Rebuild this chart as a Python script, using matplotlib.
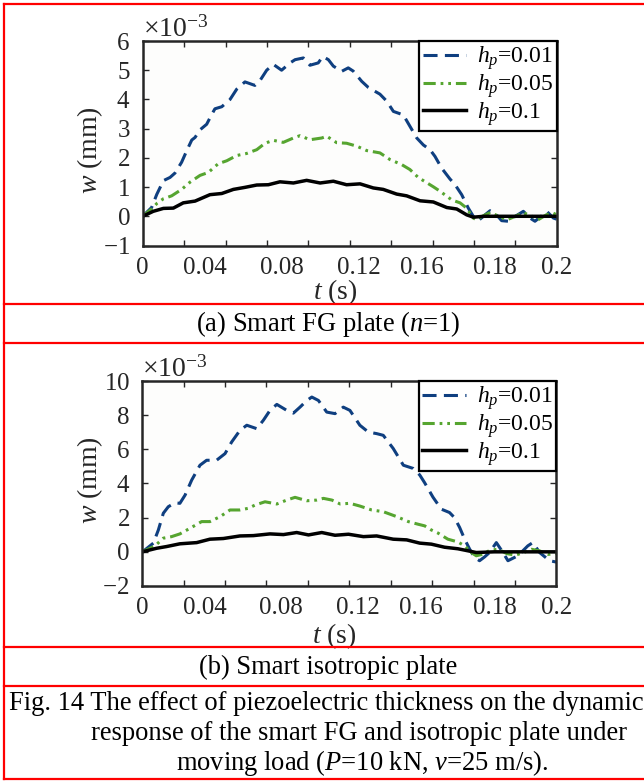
import matplotlib
matplotlib.use("Agg")
import numpy as np
import matplotlib.pyplot as plt
from matplotlib.lines import Line2D
from matplotlib.ticker import MultipleLocator

plt.rcParams.update({
    "font.family": ["Liberation Serif", "DejaVu Serif"],
    "mathtext.fontset": "custom",
    "mathtext.rm": "Liberation Serif",
    "mathtext.it": "Liberation Serif:italic",
    "mathtext.bf": "Liberation Serif:bold",
    "axes.unicode_minus": False,
})

# ---- time axis labels (placed as printed under the axis) ----
xtick_pos = [0.0, 0.0301, 0.0671, 0.1042, 0.1348, 0.1702, 0.2]
xtick_labels = ["0", "0.04", "0.08", "0.12", "0.16", "0.18", "0.2"]

legend_labels = [r"$h_p$=0.01", r"$h_p$=0.05", r"$h_p$=0.1"]

# ---- (a) smart FG plate, deflection in 1e-3 mm ----
a_t_001 = [0.0, 0.0043, 0.0068, 0.0100, 0.0132, 0.0156, 0.0188, 0.0213, 0.0237, 0.0253,
           0.0277, 0.0309, 0.0333, 0.0349, 0.0382, 0.0422, 0.0454, 0.0494, 0.0542, 0.0567,
           0.0599, 0.0631, 0.0671, 0.0712, 0.0736, 0.0776, 0.0808, 0.0848, 0.0870, 0.0897,
           0.0921, 0.0961, 0.0993, 0.1017, 0.1058, 0.1090, 0.1146, 0.1179, 0.1211, 0.1259,
           0.1291, 0.1324, 0.1356, 0.1388, 0.1412, 0.1444, 0.1484, 0.1509, 0.1541, 0.1573,
           0.1597, 0.1621, 0.1654, 0.1678, 0.1702, 0.1734, 0.1766, 0.1800, 0.1839, 0.1871,
           0.1895, 0.1925, 0.1952, 0.1984, 0.2]
a_w_001 = [0.0, 0.30, 0.75, 1.22, 1.33, 1.48, 1.85, 2.25, 2.61, 2.70,
           2.96, 3.15, 3.48, 3.68, 3.75, 4.00, 4.35, 4.60, 4.48, 4.65,
           5.00, 5.20, 5.00, 5.25, 5.36, 5.42, 5.17, 5.25, 5.47, 5.36,
           5.14, 4.96, 5.08, 4.97, 4.62, 4.41, 4.18, 3.94, 3.59, 3.47,
           3.08, 2.68, 2.44, 2.28, 2.05, 1.65, 1.28, 1.08, 0.74, 0.28,
           0.0, -0.15, 0.05, 0.19, 0.11, -0.15, -0.17, 0.0, 0.17, -0.06,
           -0.17, 0.0, 0.17, -0.06, -0.10]

a_t_005 = [0.0, 0.0043, 0.0070, 0.0100, 0.0140, 0.0188, 0.0229, 0.0277, 0.0317, 0.0365,
           0.0406, 0.0454, 0.0502, 0.0551, 0.0591, 0.0631, 0.0679, 0.0728, 0.0760, 0.0808,
           0.0865, 0.0889, 0.0937, 0.0985, 0.1034, 0.1082, 0.1146, 0.1195, 0.1251, 0.1291,
           0.1331, 0.1356, 0.1404, 0.1436, 0.1493, 0.1533, 0.1565, 0.1597, 0.1613, 0.1640,
           0.1680, 0.1720, 0.1760, 0.1800, 0.1840, 0.1880, 0.1910, 0.1950, 0.1980, 0.2]
a_w_005 = [0.0, 0.25, 0.45, 0.60, 0.70, 0.92, 1.17, 1.40, 1.50, 1.80,
           1.90, 2.08, 2.15, 2.28, 2.50, 2.60, 2.53, 2.68, 2.76, 2.62,
           2.68, 2.74, 2.52, 2.50, 2.40, 2.25, 2.17, 1.94, 1.77, 1.60,
           1.33, 1.22, 1.01, 0.86, 0.56, 0.46, 0.28, -0.06, -0.12, 0.0,
           0.13, 0.0, -0.12, 0.0, 0.12, 0.0, -0.12, 0.05, 0.12, 0.05]

a_t_01 = [0.0, 0.0051, 0.0100, 0.0148, 0.0196, 0.0253, 0.0325, 0.0382, 0.0438, 0.0494,
          0.0551, 0.0607, 0.0663, 0.0728, 0.0792, 0.0857, 0.0921, 0.0985, 0.1050, 0.1114,
          0.1162, 0.1227, 0.1275, 0.1340, 0.1404, 0.1469, 0.1517, 0.1565, 0.1597, 0.1650, 0.2]
a_w_01 = [0.0, 0.17, 0.27, 0.28, 0.46, 0.52, 0.74, 0.78, 0.92, 0.99,
          1.07, 1.08, 1.18, 1.14, 1.23, 1.14, 1.20, 1.08, 1.11, 0.97,
          0.92, 0.76, 0.70, 0.53, 0.49, 0.30, 0.25, 0.05, -0.03, 0.0, 0.0]

# ---- (b) smart isotropic plate, deflection in 1e-3 mm ----
b_t_001 = [0.0, 0.0014, 0.0054, 0.0078, 0.0102, 0.0126, 0.0158, 0.0182, 0.0207, 0.0239,
           0.0279, 0.0311, 0.0359, 0.0400, 0.0432, 0.0472, 0.0505, 0.0553, 0.0585, 0.0617,
           0.0650, 0.0698, 0.0730, 0.0762, 0.0795, 0.0819, 0.0851, 0.0891, 0.0931, 0.0971,
           0.1003, 0.1051, 0.1092, 0.1132, 0.1164, 0.1212, 0.1261, 0.1309, 0.1340, 0.1364,
           0.1404, 0.1444, 0.1484, 0.1508, 0.1533, 0.1557, 0.1581, 0.1605, 0.1629, 0.1653,
           0.1677, 0.1710, 0.1742, 0.1766, 0.1814, 0.1862, 0.1886, 0.1919, 0.1967, 0.2]
b_w_001 = [0.0, 0.12, 0.51, 1.28, 2.26, 2.64, 2.87, 2.84, 3.32, 4.20,
           5.07, 5.36, 5.36, 5.75, 6.43, 7.11, 7.41, 7.21, 7.70, 8.28,
           8.63, 8.28, 8.12, 8.47, 8.86, 9.06, 8.86, 8.18, 8.09, 8.47,
           8.28, 7.41, 7.01, 6.92, 6.82, 6.05, 5.07, 4.88, 4.50, 4.04,
           3.20, 2.50, 2.30, 2.00, 1.42, 0.74, 0.16, -0.33, -0.52, -0.30,
           -0.04, 0.54, -0.04, -0.52, -0.23, 0.35, 0.54, -0.04, -0.52, -0.60]

b_t_005 = [0.0, 0.0022, 0.0062, 0.0102, 0.0142, 0.0182, 0.0231, 0.0287, 0.0327, 0.0376,
           0.0424, 0.0472, 0.0513, 0.0545, 0.0593, 0.0650, 0.0698, 0.0738, 0.0795, 0.0843,
           0.0875, 0.0916, 0.0956, 0.1003, 0.1051, 0.1108, 0.1164, 0.1229, 0.1285, 0.1331,
           0.1364, 0.1396, 0.1428, 0.1476, 0.1524, 0.1557, 0.1589, 0.1613, 0.1645, 0.1680,
           0.1720, 0.1760, 0.1800, 0.1840, 0.1880, 0.1920, 0.1960, 0.2]
b_w_005 = [0.0, 0.12, 0.35, 0.80, 0.89, 1.05, 1.38, 1.77, 1.77, 2.06,
           2.45, 2.45, 2.55, 2.74, 2.93, 2.80, 3.03, 3.19, 2.99, 3.03,
           3.13, 3.03, 2.80, 2.84, 2.68, 2.45, 2.35, 2.06, 1.77, 1.62,
           1.52, 1.28, 1.10, 0.74, 0.58, 0.35, -0.04, -0.23, -0.14, 0.10,
           0.15, -0.10, -0.20, -0.05, 0.15, 0.05, -0.15, -0.10]

b_t_01 = [0.0, 0.0070, 0.0118, 0.0182, 0.0263, 0.0327, 0.0392, 0.0472, 0.0537, 0.0617,
          0.0682, 0.0746, 0.0803, 0.0867, 0.0931, 0.0996, 0.1068, 0.1132, 0.1212, 0.1277,
          0.1340, 0.1396, 0.1460, 0.1524, 0.1573, 0.1613, 0.1700, 0.2]
b_w_01 = [0.0, 0.21, 0.31, 0.47, 0.54, 0.74, 0.78, 0.93, 0.95, 1.05,
          1.01, 1.13, 0.99, 1.13, 0.97, 1.03, 0.89, 0.93, 0.74, 0.70,
          0.51, 0.45, 0.27, 0.18, 0.06, -0.04, 0.0, 0.0]

BLUE = "#0f3f80"
GREEN = "#56a530"
TXT = "#262626"
W, H = 644, 781
TICK_FS = 18
LABEL_FS = 20

fig = plt.figure(figsize=(W / 100, H / 100), dpi=100)
fig.patch.set_facecolor("white")


def px_box(x0, y0, x1, y1):
    return [x0 / W, 1 - y1 / H, (x1 - x0) / W, (y1 - y0) / H]


def panel(box, series, ylim, ystep, ylab_y, xlab_y):
    ax = fig.add_axes(box)
    ax.set_facecolor("#fdfdfc")
    (t1, w1), (t2, w2), (t3, w3) = series
    lw = 2.2
    blue_dash = (4.6, 2.4)
    green_dash = (4.0, 1.6, 0.9, 1.6, 0.9, 1.6)
    ax.plot(t1, np.array(w1) * 1e-3, color=BLUE, lw=lw, dashes=blue_dash)
    ax.plot(t2, np.array(w2) * 1e-3, color=GREEN, lw=lw, dashes=green_dash)
    ax.plot(t3, np.array(w3) * 1e-3, color="black", lw=2.5)

    ax.set_xlim(0, 0.2)
    ax.set_ylim(ylim[0] * 1e-3, ylim[1] * 1e-3)
    ax.set_yticks(np.arange(ylim[0], ylim[1] + 0.1, ystep) * 1e-3)
    ax.ticklabel_format(axis="y", style="sci", scilimits=(-3, -3), useMathText=True)
    ax.yaxis.get_offset_text().set_fontsize(20)
    ax.yaxis.get_offset_text().set_color(TXT)

    ax.set_xticks(xtick_pos, labels=xtick_labels)
    ax.xaxis.set_minor_locator(MultipleLocator(0.02))
    ax.tick_params(axis="x", which="major", length=0, pad=8, labelsize=TICK_FS,
                   labelcolor=TXT)
    ax.tick_params(axis="x", which="minor", direction="in", length=4, width=1,
                   top=True, bottom=True, color=TXT)
    ax.tick_params(axis="y", which="major", direction="in", length=4, width=1,
                   left=True, right=True, labelsize=TICK_FS, labelcolor=TXT, pad=9,
                   color=TXT)
    for s in ax.spines.values():
        s.set_linewidth(1.8)
        s.set_color(TXT)

    ax.set_ylabel(r"$w$ (mm)", fontsize=LABEL_FS, color=TXT)
    ax.yaxis.set_label_coords(-0.09, ylab_y)
    ax.set_xlabel(r"$t$ (s)", fontsize=LABEL_FS, color=TXT)
    ax.xaxis.set_label_coords(0.465, xlab_y)

    handles = [Line2D([], [], color=BLUE, lw=lw, dashes=blue_dash),
               Line2D([], [], color=GREEN, lw=lw, dashes=green_dash),
               Line2D([], [], color="black", lw=2.5)]
    leg = ax.legend(handles, legend_labels, loc="upper right", borderaxespad=0,
                    fontsize=17, fancybox=False, frameon=True, handlelength=1.85,
                    handletextpad=0.45, borderpad=0.15, labelspacing=0.0)
    leg.get_frame().set_edgecolor("black")
    leg.get_frame().set_linewidth(1.6)
    leg.get_frame().set_facecolor("white")
    leg.get_frame().set_alpha(1)
    return ax


panel(px_box(142.7, 41, 556.7, 245.5),
      [(a_t_001, a_w_001), (a_t_005, a_w_005), (a_t_01, a_w_01)],
      (-1, 6), 1, 0.467, -0.155)
panel(px_box(142.2, 381, 556.4, 586),
      [(b_t_001, b_w_001), (b_t_005, b_w_005), (b_t_01, b_w_01)],
      (-2, 10), 2, 0.517, -0.17)

# table rules around panels and captions
RED = "#ff0000"
for y in [3.5, 304, 343, 647, 686, 778.5]:
    fig.add_artist(Line2D([4 / W, 1], [1 - y / H, 1 - y / H], color=RED, lw=1.6,
                          transform=fig.transFigure))
fig.add_artist(Line2D([4 / W, 4 / W], [1 - 3.5 / H, 1 - 778.5 / H], color=RED, lw=1.6,
                      transform=fig.transFigure))

fs = 19.1
fig.text(328 / W, 1 - 324 / H, r"(a) Smart FG plate ($n$=1)", ha="center", va="center",
         fontsize=fs)
fig.text(328 / W, 1 - 667 / H, "(b) Smart isotropic plate", ha="center", va="center",
         fontsize=fs)
fig.text(9 / W, 1 - 703 / H,
         "Fig. 14 The effect of piezoelectric thickness on the dynamic",
         ha="left", va="center", fontsize=fs)
fig.text(91 / W, 1 - 733 / H,
         "response of the smart FG and isotropic plate under",
         ha="left", va="center", fontsize=fs)
fig.text(176 / W, 1 - 763 / H,
         r"moving load ($P$=10 kN, $v$=25 m/s).",
         ha="left", va="center", fontsize=fs)

fig.savefig("out.png", dpi=100)
